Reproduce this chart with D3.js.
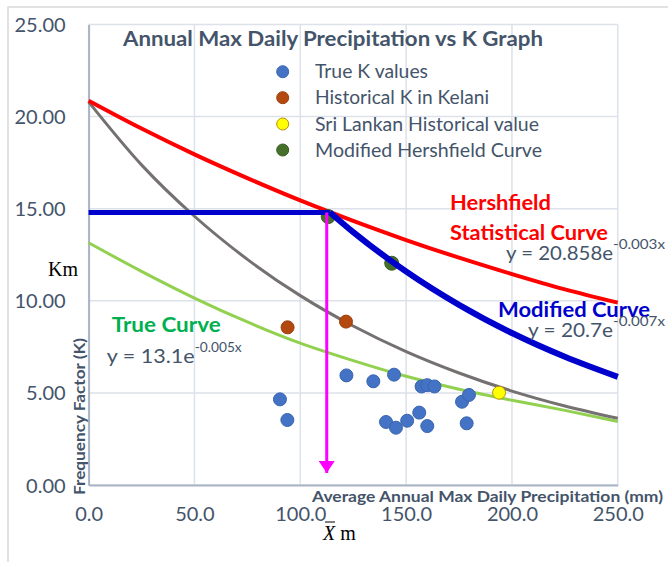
<!DOCTYPE html>
<html>
<head>
<meta charset="utf-8">
<script src="https://cdn.jsdelivr.net/npm/d3@7"></script>
<style>
  body { margin: 0; background: #fff; }
  svg { display: block; font-family: Lato, "Open Sans", sans-serif; }
</style>
</head>
<body>
<div id="chart"></div>
<script>
// curves, sampled along x (mm)
var curveX = [0, 25, 50, 75, 100, 125, 150, 175, 200, 225, 250];
var hershK = [20.86, 19.35, 17.95, 16.66, 15.45, 14.34, 13.30, 12.34, 11.45, 10.62, 9.9];
var grayK  = [20.8, 17.38, 14.59, 12.25, 10.28, 8.63, 7.24, 6.08, 5.10, 4.29, 3.62];
var trueCurveK = [13.15, 11.6, 10.15, 8.85, 7.7, 6.75, 5.9, 5.2, 4.6, 4.05, 3.45];

// modified curve (blue), starts at the Xm line
var modCurveX = [114, 125, 150, 175, 200, 225, 250];
var modCurveK = [14.8, 13.73, 11.59, 9.78, 8.25, 6.96, 5.87];
var kmLevel = 14.8;
var xmValue = 112.5;

// scatter series
var trueX = [90.4, 93.9, 121.8, 134.5, 144.3, 140.5, 145.2, 150.5, 156.2, 160.0, 157.3, 160.0, 163.4, 176.4, 179.7, 178.6];
var trueKv = [4.65, 3.53, 5.95, 5.63, 5.99, 3.42, 3.11, 3.49, 3.93, 3.20, 5.35, 5.42, 5.35, 4.52, 4.89, 3.35];
var histX = [94.0, 121.6];
var histK = [8.56, 8.87];
var sriX = [193.9];
var sriK = [5.01];
var modX = [113.2, 143.2];
var modK = [14.57, 12.04];

var xTicks = [0, 50, 100, 150, 200, 250];
var yTicks = [0, 5, 10, 15, 20, 25];
var legendNames = ["True K values", "Historical K in Kelani", "Sri Lankan Historical value", "Modified Hershfield Curve"];

var width = 668;
var height = 562;
var slate = "#44546A";

var svg = d3.select('#chart')
            .append('svg')
            .attr('width', width)
            .attr('height', height);

// outer frame
svg.append('rect')
   .attr('x', 8).attr('y', 7)
   .attr('width', 700).attr('height', 600)
   .attr('fill', '#fff')
   .attr('stroke', '#D9D9D9')
   .attr('stroke-width', 1.5);

var x = d3.scaleLinear().domain([0, 250]).range([88.6, 617.8]);
var y = d3.scaleLinear().domain([0, 25]).range([485, 24.5]);

// grid
svg.append('g').selectAll('line')
   .data(yTicks).enter().append('line')
   .attr('x1', x(0)).attr('x2', x(250))
   .attr('y1', function(d){ return y(d); })
   .attr('y2', function(d){ return y(d); })
   .attr('stroke', '#DCE1EA').attr('stroke-width', 1.5);
svg.append('g').selectAll('line')
   .data(xTicks).enter().append('line')
   .attr('y1', y(0)).attr('y2', y(25))
   .attr('x1', function(d){ return x(d); })
   .attr('x2', function(d){ return x(d); })
   .attr('stroke', '#DCE1EA').attr('stroke-width', 1.5);

// axes
var yAxis = svg.append('g').attr('transform', 'translate(' + x(0) + ',0)')
   .call(d3.axisLeft(y).tickValues(yTicks).tickSize(0).tickFormat(d3.format('.2f')));
var xAxis = svg.append('g').attr('transform', 'translate(0,' + y(0) + ')')
   .call(d3.axisBottom(x).tickValues(xTicks).tickSize(0).tickFormat(d3.format('.1f')));
[yAxis, xAxis].forEach(function(a){
  a.select('.domain').attr('stroke', '#A9B4C6').attr('stroke-width', 2);
  a.selectAll('text').attr('fill', slate).attr('font-size', 20)
   .attr('font-family', 'Lato, sans-serif');
});
yAxis.selectAll('text').attr('x', -23).attr('dy', '0.35em');
xAxis.selectAll('text').attr('y', 22).attr('dy', '0.71em');

// curves
var line = d3.line()
  .x(function(d){ return x(d[0]); })
  .y(function(d){ return y(d[1]); })
  .curve(d3.curveMonotoneX);

function pairs(xs, ys){ return xs.map(function(v, i){ return [v, ys[i]]; }); }

svg.append('path').datum(pairs(curveX, trueCurveK))
   .attr('d', line).attr('fill', 'none')
   .attr('stroke', '#92D050').attr('stroke-width', 3);
svg.append('path').datum(pairs(curveX, grayK))
   .attr('d', line).attr('fill', 'none')
   .attr('stroke', '#767171').attr('stroke-width', 3);
svg.append('path').datum(pairs(curveX, hershK))
   .attr('d', line).attr('fill', 'none')
   .attr('stroke', '#FF0000').attr('stroke-width', 4);

// scatter
function dots(xs, ys, fill, stroke, r){
  svg.append('g').selectAll('circle')
     .data(pairs(xs, ys)).enter().append('circle')
     .attr('cx', function(d){ return x(d[0]); })
     .attr('cy', function(d){ return y(d[1]); })
     .attr('r', r)
     .attr('fill', fill)
     .attr('stroke', stroke).attr('stroke-width', 1);
}
dots(trueX, trueKv, '#4472C4', '#3A65B0', 6.5);
dots(histX, histK, '#B4490F', '#9A3E0C', 6.5);
dots(sriX, sriK, '#FFFF00', '#B8900A', 6.5);
dots(modX, modK, '#46702A', '#3A5E22', 7);

// blue Km line and modified curve
svg.append('path').datum(pairs([0, modCurveX[0]], [kmLevel, kmLevel]))
   .attr('d', line).attr('fill', 'none')
   .attr('stroke', '#0000CC').attr('stroke-width', 5);
svg.append('path').datum(pairs(modCurveX, modCurveK))
   .attr('d', line).attr('fill', 'none')
   .attr('stroke', '#0000CC').attr('stroke-width', 6);

// magenta arrow down to Xm
svg.append('defs').append('marker')
   .attr('id', 'arrow').attr('viewBox', '0 0 16 12')
   .attr('refX', 8).attr('refY', 12)
   .attr('markerWidth', 16).attr('markerHeight', 12)
   .attr('markerUnits', 'userSpaceOnUse')
   .attr('orient', 0)
   .append('path').attr('d', 'M0,0 L16,0 L8,12 Z').attr('fill', '#FF00FF');
svg.append('line')
   .attr('x1', x(xmValue)).attr('x2', x(xmValue))
   .attr('y1', y(kmLevel)).attr('y2', y(0) - 12)
   .attr('stroke', '#FF00FF').attr('stroke-width', 3)
   .attr('marker-end', 'url(#arrow)');

// title
svg.append('text')
   .attr('x', 333).attr('y', 46)
   .attr('text-anchor', 'middle')
   .attr('font-size', 20).attr('font-weight', 'bold')
   .attr('fill', slate)
   .attr('textLength', 420).attr('lengthAdjust', 'spacingAndGlyphs')
   .text('Annual Max Daily Precipitation vs K Graph');

// legend
var legendColors = [['#4472C4', '#3A65B0'], ['#B4490F', '#9A3E0C'], ['#FFFF00', '#B8900A'], ['#46702A', '#3A5E22']];
var legendY = [71.7, 97.7, 124, 150];
var legendW = [113, 174, 224, 227];
var lg = svg.append('g').selectAll('g')
   .data(legendNames).enter().append('g');
lg.append('circle')
  .attr('cx', 282.7).attr('cy', function(d, i){ return legendY[i]; })
  .attr('r', 6)
  .attr('fill', function(d, i){ return legendColors[i][0]; })
  .attr('stroke', function(d, i){ return legendColors[i][1]; });
lg.append('text')
  .attr('x', 315).attr('y', function(d, i){ return legendY[i] + 6.5; })
  .attr('font-size', 18.5).attr('fill', slate)
  .attr('textLength', function(d, i){ return legendW[i]; })
  .attr('lengthAdjust', 'spacingAndGlyphs')
  .text(function(d){ return d; });

// axis titles
svg.append('text')
   .attr('x', 663).attr('y', 502)
   .attr('text-anchor', 'end')
   .attr('font-size', 16).attr('font-weight', 'bold')
   .attr('fill', slate)
   .attr('textLength', 351).attr('lengthAdjust', 'spacingAndGlyphs')
   .text('Average Annual Max Daily Precipitation (mm)');
svg.append('text')
   .attr('transform', 'translate(85,416.5) rotate(-90)')
   .attr('text-anchor', 'middle')
   .attr('font-size', 14.5).attr('font-weight', 'bold')
   .attr('fill', slate)
   .attr('textLength', 157).attr('lengthAdjust', 'spacingAndGlyphs')
   .text('Frequency Factor (K)');

// Km and Xm labels
svg.append('text')
   .attr('x', 48).attr('y', 276)
   .attr('font-family', '"Liberation Serif", "DejaVu Serif", serif')
   .attr('font-size', 20).attr('fill', '#000')
   .text('Km');
var xm = svg.append('text')
   .attr('x', 323).attr('y', 540)
   .attr('font-family', '"Liberation Serif", "DejaVu Serif", serif')
   .attr('font-size', 20).attr('fill', '#000');
xm.append('tspan').attr('font-style', 'italic').text('X');
xm.append('tspan').text(' m');
svg.append('line')
   .attr('x1', 325).attr('x2', 335).attr('y1', 522).attr('y2', 522)
   .attr('stroke', '#000').attr('stroke-width', 1);

// curve annotations
function label(tx, ty, txt, color, w){
  svg.append('text')
     .attr('x', tx).attr('y', ty)
     .attr('font-size', 20).attr('font-weight', 'bold')
     .attr('fill', color)
     .attr('textLength', w).attr('lengthAdjust', 'spacingAndGlyphs')
     .text(txt);
}
label(450, 209.5, 'Hershfield', '#FF0000', 101);
label(450, 240, 'Statistical Curve', '#FF0000', 158);
label(498, 317, 'Modified Curve', '#0000CC', 152);
label(111.7, 331.7, 'True Curve', '#00B050', 109);

function equation(tx, ty, base, sup, w1, w2){
  var t = svg.append('text')
     .attr('x', tx).attr('y', ty)
     .attr('font-size', 20).attr('fill', slate);
  t.append('tspan').attr('textLength', w1).attr('lengthAdjust', 'spacingAndGlyphs').text(base);
  t.append('tspan').attr('font-size', 13).attr('dy', -11)
   .attr('textLength', w2).attr('lengthAdjust', 'spacingAndGlyphs').text(sup);
}
equation(506, 260, 'y = 20.858e', '-0.003x', 107, 52);
equation(528, 337, 'y = 20.7e', '-0.007x', 85, 52);
equation(106.7, 363.3, 'y = 13.1e', '-0.005x', 88, 47);
</script>
</body>
</html>
